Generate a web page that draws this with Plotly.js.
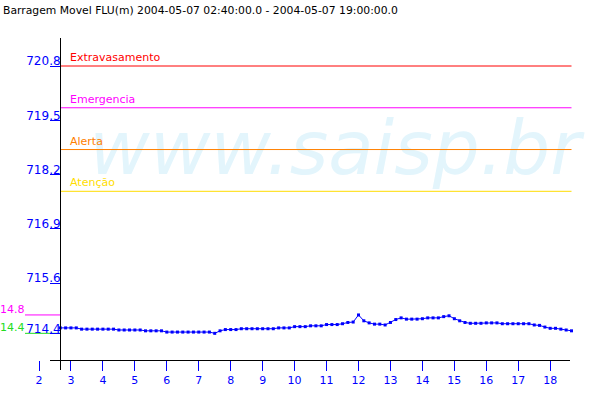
<!DOCTYPE html>
<html>
<head>
<meta charset="utf-8">
<script src="https://cdn.plot.ly/plotly-3.0.1.min.js"></script>
<style>html,body{margin:0;padding:0;background:#fff;}#chart{width:600px;height:400px;}</style>
</head>
<body>
<div id="chart"></div>
<script>
// ---- data ----
const chartTitle = "Barragem Movel FLU(m) 2004-05-07 02:40:00.0 - 2004-05-07 19:00:00.0";
const times = [
 "02:40","02:50",
 "03:00","03:10","03:20","03:30","03:40","03:50",
 "04:00","04:10","04:20","04:30","04:40","04:50",
 "05:00","05:10","05:20","05:30","05:40","05:50",
 "06:00","06:10","06:20","06:30","06:40","06:50",
 "07:00","07:10","07:20","07:30","07:40","07:50",
 "08:00","08:10","08:20","08:30","08:40","08:50",
 "09:00","09:10","09:20","09:30","09:40","09:50",
 "10:00","10:10","10:20","10:30","10:40","10:50",
 "11:00","11:10","11:20","11:30","11:40","11:50",
 "12:00","12:10","12:20","12:30","12:40","12:50",
 "13:00","13:10","13:20","13:30","13:40","13:50",
 "14:00","14:10","14:20","14:30","14:40","14:50",
 "15:00","15:10","15:20","15:30","15:40","15:50",
 "16:00","16:10","16:20","16:30","16:40","16:50",
 "17:00","17:10","17:20","17:30","17:40","17:50",
 "18:00","18:10","18:20","18:30","18:40"
];
const levels = [
 714.53,714.53,714.53,714.53,
 714.50,714.50,714.50,714.50,714.50,714.50,714.50,
 714.48,714.48,714.48,714.48,714.48,
 714.46,714.46,714.46,714.46,
 714.43,714.43,714.43,714.43,714.43,714.43,714.43,714.43,714.43,
 714.40,
 714.46,
 714.49,714.49,714.49,
 714.51,714.51,714.51,714.51,714.51,714.51,714.51,
 714.53,714.53,714.53,
 714.56,714.56,714.56,
 714.58,714.58,714.58,
 714.61,714.61,714.61,
 714.63,714.66,714.67,714.84,714.70,714.65,714.62,714.62,714.60,714.66,714.73,714.77,
 714.74,714.74,714.74,
 714.75,
 714.77,714.77,714.77,
 714.80,714.82,714.75,714.70,714.66,
 714.64,714.64,714.64,
 714.65,714.65,714.65,
 714.63,714.63,714.63,714.63,714.63,714.63,
 714.60,714.59,714.55,714.52,714.52,714.50,714.48,714.46
];
const thresholdNames = ["Extravasamento", "Emergencia", "Alerta", "Atenção"];
const thresholdValues = [720.8, 719.8, 718.8, 717.8];
const thresholdColors = ["#ff0000", "#ff00ff", "#ff8000", "#ffdd00"];
const xTickVals = [2,3,4,5,6,7,8,9,10,11,12,13,14,15,16,17,18];
const yTickVals = [714.4, 715.6, 716.9, 718.2, 719.5, 720.8];
const yTickText = ["714.4", "715.6", "716.9", "718.2", "719.5", "720.8"];
const maxLabel = "14.8";
const minLabel = "14.4";
const watermark = "www.saisp.br";

// ---- pixel calibration (layout) ----
function xh(px) { return 2 + (px - 39) / 31.95; }
function yv(py) { return 720.8 - (py - 66) / 41.77; }
const hours = times.map(t => { const p = t.split(":"); return +p[0] + (+p[1]) / 60; });
const x0 = hours[0], x1 = hours[hours.length - 1];
const vmax = Math.max(...levels), vmin = Math.min(...levels);
const BLUE = "#0000ff";
const F = "DejaVu Sans";

const traces = [];
traces.push({
  x: [xh(335)], y: [yv(155)], mode: "text", text: [watermark],
  textfont: {family: F, size: 74, color: "#e3f5fc", style: "italic"},
  hoverinfo: "skip", showlegend: false, cliponaxis: false
});
thresholdValues.forEach((v, i) => {
  traces.push({x: [x0, x1], y: [v, v], mode: "lines",
    line: {color: thresholdColors[i], width: 1}, hoverinfo: "skip", showlegend: false});
});
traces.push({x: [xh(25), x0], y: [vmax, vmax], mode: "lines",
  line: {color: "#ff00ff", width: 1}, hoverinfo: "skip", showlegend: false, cliponaxis: false});
traces.push({x: [xh(25), x0], y: [vmin, vmin], mode: "lines",
  line: {color: "#22dd22", width: 1}, hoverinfo: "skip", showlegend: false, cliponaxis: false});
traces.push({x: hours, y: levels, mode: "lines+markers",
  line: {color: BLUE, width: 1}, marker: {color: BLUE, size: 3, symbol: "square"},
  hoverinfo: "skip", showlegend: false});

const annotations = thresholdNames.map((n, i) => ({
  text: n, xref: "paper", x: 68 / 600, xanchor: "left",
  yref: "y", y: thresholdValues[i], yanchor: "bottom", yshift: 0,
  showarrow: false, font: {family: F, size: 11, color: thresholdColors[i]}
}));
annotations.push({text: maxLabel, xref: "paper", x: 25.5 / 600, xanchor: "right",
  yref: "y", y: vmax, yanchor: "bottom", yshift: -2, showarrow: false, borderpad: 0,
  font: {family: F, size: 11, color: "#ff00ff"}});
annotations.push({text: minLabel, xref: "paper", x: 25.5 / 600, xanchor: "right",
  yref: "y", y: vmin, yanchor: "bottom", yshift: -2, showarrow: false, borderpad: 0,
  font: {family: F, size: 11, color: "#22dd22"}});

const layout = {
  width: 600, height: 400, autosize: false,
  margin: {l: 0, r: 0, t: 0, b: 0, pad: 0},
  paper_bgcolor: "#ffffff", plot_bgcolor: "#ffffff",
  showlegend: false,
  title: {text: chartTitle, x: 3 / 600, xanchor: "left", xref: "container",
    y: 1 - 6 / 400, yanchor: "top", yref: "container",
    font: {family: F, size: 10.8, color: "#000000"}},
  xaxis: {range: [xh(0), xh(600)], anchor: "free", position: 40 / 400,
    showline: false, showgrid: false, zeroline: false,
    tickmode: "array", tickvals: xTickVals, ticks: "outside", ticklen: 10,
    tickwidth: 1, tickcolor: BLUE, tickfont: {family: F, size: 11, color: BLUE},
    fixedrange: true},
  yaxis: {range: [yv(400), yv(0)], anchor: "free", position: 60 / 600,
    showline: false, showgrid: false, zeroline: false,
    tickmode: "array", tickvals: yTickVals, ticktext: yTickText,
    ticks: "outside", ticklen: 10, tickwidth: 1, tickcolor: BLUE,
    tickfont: {family: F, size: 12, color: BLUE},
    ticklabelstandoff: -13, ticklabelshift: -5, fixedrange: true},
  shapes: [
    {type: "line", xref: "x", yref: "y", x0: xh(50), x1: xh(570), y0: yv(360.5), y1: yv(360.5),
      line: {color: "#000000", width: 1}},
    {type: "line", xref: "x", yref: "y", x0: xh(60.5), x1: xh(60.5), y0: yv(38), y1: yv(370),
      line: {color: "#000000", width: 1}}
  ],
  annotations: annotations
};
Plotly.newPlot("chart", traces, layout, {displayModeBar: false, staticPlot: true});
</script>
</body>
</html>
